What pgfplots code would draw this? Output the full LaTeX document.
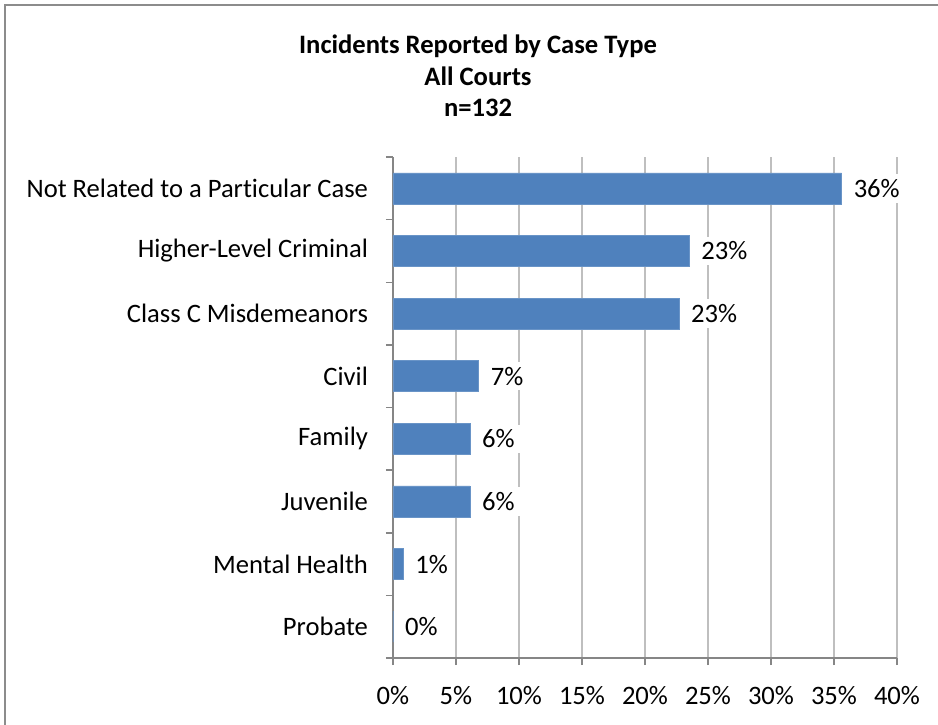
\documentclass[border=0pt]{standalone}
\usepackage{fontspec}
\setmainfont{Carlito}[Ligatures=NoCommon]
\usepackage{pgfplots}
\pgfplotsset{compat=1.18}
\definecolor{barblue}{HTML}{4F81BD}
\definecolor{gridgray}{HTML}{BFBFBF}
\definecolor{axgray}{HTML}{868686}
\definecolor{framegray}{HTML}{8C8C8C}

\pgfplotstableread{
cat val lab
0 35.6 36
1 23.5 23
2 22.7 23
3 6.8 7
4 6.1 6
5 6.1 6
6 0.8 1
7 0.0 0
}\cases

\begin{document}
\fontsize{26.6pt}{32pt}\selectfont
\begin{tikzpicture}[x=1pt,y=1pt]
\useasboundingbox (0,0) rectangle (938,724);
\draw[framegray, line width=2pt] (5,-2) -- (5,719) -- (940,719);
\node[font=\fontsize{26.6pt}{31.5pt}\selectfont\bfseries, align=center] at (478,648)
  {Incidents Reported by Case Type\\All Courts\\n=132};
\begin{axis}[
  at={(393pt,66pt)}, anchor=south west,
  scale only axis, width=504pt, height=501pt,
  xbar, bar width=31pt,
  xmin=0, xmax=40, ymin=-0.5, ymax=7.5, y dir=reverse,
  axis x line*=bottom, axis y line*=left,
  axis line style={axgray, line width=1.5pt, -},
  xtick={0,5,...,40},
  xticklabels={0\%,5\%,10\%,15\%,20\%,25\%,30\%,35\%,40\%},
  ytick={0,...,7},
  yticklabels={Not Related to a Par\kern0pt ticular Case,Higher-Level Criminal,Class C Misdemeanors,Civil,Family,Juvenile,Mental Health,Probate},
  minor ytick={-0.5,0.5,...,7.5},
  every major y tick/.style={draw=none},
  tick align=outside,
  major tick length=7pt, minor tick length=7pt,
  tick style={axgray, line width=1.5pt},
  xmajorgrids, grid style={gridgray, line width=1.5pt},
  xticklabel style={yshift=-12pt},
  yticklabel style={xshift=-9pt},
  nodes near coords={\pgfplotspointmeta\%},
  point meta=explicit symbolic,
  nodes near coords style={anchor=west, fill=white, inner sep=5pt, xshift=7pt, text=black},
]
\addplot[fill=barblue, draw=barblue!85!white] table[x=val, y=cat, meta=lab] {\cases};
\end{axis}
\end{tikzpicture}
\end{document}
